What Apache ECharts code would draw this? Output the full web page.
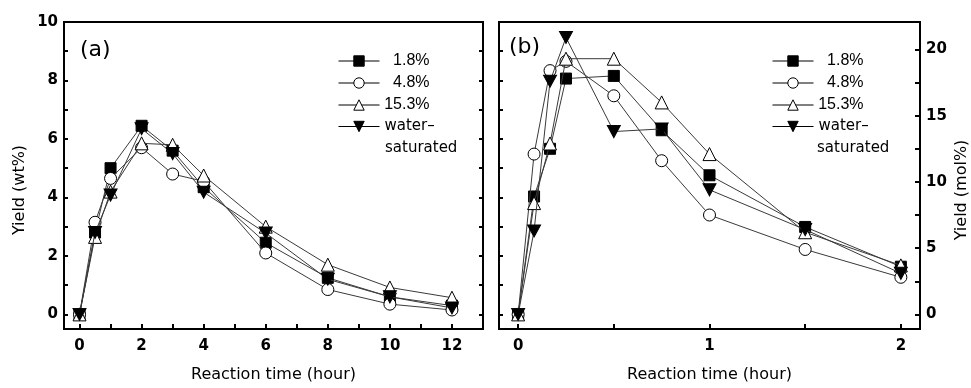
<!DOCTYPE html>
<html>
<head>
<meta charset="utf-8">
<title>Yield vs reaction time</title>
<script src="https://cdn.jsdelivr.net/npm/echarts@6/dist/echarts.min.js"></script>
<style>
  html, body { margin: 0; padding: 0; background: #fff; }
  #chart { width: 971px; height: 388px; }
</style>
</head>
<body>
<div id="chart"></div>
<script>
// panel (a): yield in wt%, time in hours
const timeA = [0, 0.5, 1, 2, 3, 4, 6, 8, 10, 12];
const wt18 = [0, 2.8, 5.0, 6.45, 5.6, 4.35, 2.45, 1.25, 0.6, 0.3];
const wt48 = [0, 3.15, 4.65, 5.7, 4.8, 4.55, 2.1, 0.85, 0.35, 0.15];
const wt153 = [0, 2.65, 4.2, 5.85, 5.8, 4.75, 3.0, 1.7, 0.92, 0.57];
const wtSat = [0, 2.8, 4.08, 6.35, 5.5, 4.18, 2.78, 1.2, 0.6, 0.22];

// panel (b): yield in mol%, first 2 hours
const timeB = [0, 0.0833, 0.1667, 0.25, 0.5, 0.75, 1, 1.5, 2];
const mol18 = [0, 8.9, 12.5, 17.8, 18.0, 13.9, 10.5, 6.6, 3.6];
const mol48 = [0, 12.1, 18.4, 19.1, 16.5, 11.6, 7.5, 4.9, 2.8];
const mol153 = [0, 8.4, 12.9, 19.3, 19.3, 16.0, 12.1, 6.2, 3.7];
const molSat = [0, 6.3, 17.6, 20.9, 13.8, 14.0, 9.4, 6.4, 3.1];

const seriesNames = ["1.8%", "4.8%", "15.3%", "water-saturated"];

// ticks / labels
const xTicksA = [0, 1, 2, 3, 4, 5, 6, 7, 8, 9, 10, 11, 12];
const xLabelsA = [0, 2, 4, 6, 8, 10, 12];
const xTicksB = [0, 0.5, 1, 1.5, 2];
const xLabelsB = [0, 1, 2];
const wtTicks = [0, 1, 2, 3, 4, 5, 6, 7, 8, 9, 10];
const wtLabels = [0, 2, 4, 6, 8, 10];
const molTicks = [0, 2.5, 5, 7.5, 10, 12.5, 15, 17.5, 20];
const molLabels = [0, 5, 10, 15, 20];

const textFont = "DejaVu Sans";
const black = "#000";

const pair = (xs, ys) => xs.map((x, i) => [x, ys[i]]);

const markers = [
  { symbol: "rect", symbolSize: 11, color: black },
  { symbol: "circle", symbolSize: 12, color: "#fff" },
  { symbol: "triangle", symbolSize: 13, color: "#fff" },
  { symbol: "path://M0,0 L10,0 L5,9 Z", symbolSize: [13, 12], color: black },
];

function makeSeries(name, idx, xs, ys, xAxisIndex, yAxisIndex) {
  const m = markers[idx];
  return {
    name: name,
    type: "line",
    xAxisIndex: xAxisIndex,
    yAxisIndex: yAxisIndex,
    data: pair(xs, ys),
    symbol: m.symbol,
    symbolSize: m.symbolSize,
    showAllSymbol: true,
    animation: false,
    lineStyle: { color: "#3a3a3a", width: 1 },
    itemStyle: { color: m.color, borderColor: black, borderWidth: 1, opacity: 1 },
    emphasis: { disabled: true },
    z: 3 + idx,
  };
}

const axisLine = { show: true, onZero: false, lineStyle: { color: black, width: 2 } };
const tickLabel = {
  color: black,
  fontFamily: textFont,
  fontWeight: "bold",
  fontSize: 15,
};

function xAxisOf(gridIndex, min, max, ticks, labels) {
  return {
    gridIndex: gridIndex,
    type: "value",
    min: min,
    max: max,
    axisLine: axisLine,
    axisTick: { inside: true, length: 5, lineStyle: { width: 2, color: black }, customValues: ticks },
    axisLabel: Object.assign({ margin: 10, customValues: labels }, tickLabel),
    splitLine: { show: false },
    name: "Reaction time (hour)",
    nameLocation: "middle",
    nameGap: 38,
    nameTextStyle: { color: black, fontFamily: textFont, fontSize: 16 },
  };
}

function yAxisOf(gridIndex, position, min, max, ticks, labels, tickLen) {
  return {
    gridIndex: gridIndex,
    type: "value",
    position: position,
    min: min,
    max: max,
    axisLine: axisLine,
    axisTick: { inside: true, length: tickLen, lineStyle: { width: 2, color: black }, customValues: ticks },
    axisLabel: labels
      ? Object.assign({ margin: 6, customValues: labels }, tickLabel)
      : { show: false },
    splitLine: { show: false },
  };
}

function legendOf(left) {
  return {
    orient: "vertical",
    left: left,
    top: 48,
    itemWidth: 41,
    itemHeight: 13,
    itemGap: 6,
    selectedMode: false,
    data: seriesNames,
    itemStyle: { borderWidth: 1, borderColor: black },
    lineStyle: { color: black, width: 1 },
    formatter: (name) => (name === "water-saturated" ? "water\u2013" : "{r|" + name + "}"),
    textStyle: {
      color: black,
      fontFamily: textFont,
      fontSize: 15,
      rich: { r: { width: 45, align: "right", fontFamily: "Liberation Sans", fontSize: 16, color: black } },
    },
  };
}

function label(text, x, y, size, rot) {
  return {
    type: "text",
    x: x,
    y: y,
    rotation: rot || 0,
    style: {
      text: text,
      fill: black,
      font: size + "px '" + textFont + "'",
      align: rot ? "center" : "left",
      verticalAlign: "middle",
    },
  };
}

const seriesA = [wt18, wt48, wt153, wtSat];
const seriesB = [mol18, mol48, mol153, molSat];

const options = {
  backgroundColor: "#fff",
  animation: false,
  grid: [
    { left: 64, top: 22, width: 419, height: 310, show: true, borderColor: black, borderWidth: 2, backgroundColor: "transparent" },
    { left: 499, top: 22, width: 421, height: 310, show: true, borderColor: black, borderWidth: 2, backgroundColor: "transparent" },
  ],
  xAxis: [
    xAxisOf(0, -0.5, 13, xTicksA, xLabelsA),
    xAxisOf(1, -0.1, 2.1, xTicksB, xLabelsB),
  ],
  yAxis: [
    yAxisOf(0, "left", -0.5, 10, wtTicks, wtLabels, 4),
    yAxisOf(0, "right", -0.5, 10, wtTicks, null, 4),
    yAxisOf(1, "left", -0.5, 10, wtTicks.slice(0, 10), null, 4),
    yAxisOf(1, "right", -1.1035, 22.07, molTicks, molLabels, 5),
  ],
  legend: [legendOf(333), legendOf(767)],
  series: [
    ...seriesNames.map((n, i) => makeSeries(n, i, timeA, seriesA[i], 0, 0)),
    ...seriesNames.map((n, i) => makeSeries(n, i, timeB, seriesB[i], 1, 3)),
  ],
  graphic: [
    label("(a)", 80, 50, 22),
    label("(b)", 509, 47, 22),
    label("saturated", 385, 148, 15),
    label("saturated", 817, 148, 15),
    label("Yield (wt%)", 20, 190, 16, Math.PI / 2),
    label("Yield (mol%)", 962, 190, 16, Math.PI / 2),
  ],
};

const chart = echarts.init(document.getElementById("chart"), null, { renderer: "canvas" });
chart.setOption(options);
</script>
</body>
</html>
